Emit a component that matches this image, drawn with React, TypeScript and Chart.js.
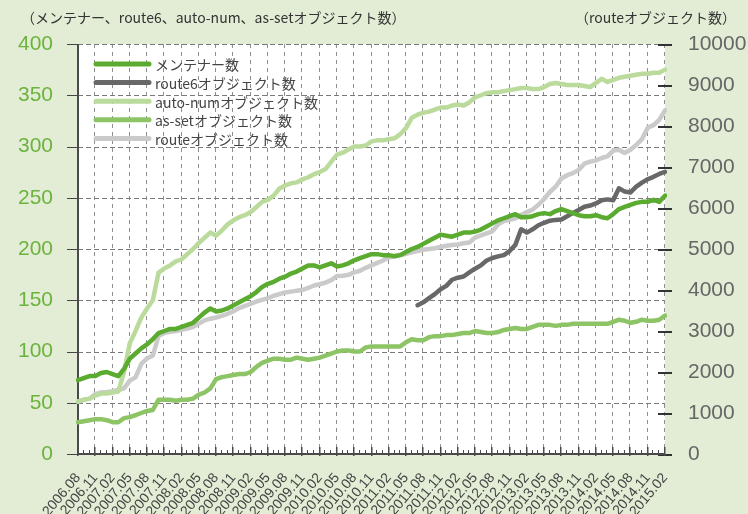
import React, { useEffect, useRef, useState } from 'react';
import { Chart, registerables } from 'chart.js';
Chart.register(...registerables);

const START_YEAR = 2006;
const START_MONTH = 8;
const MONTH_COUNT = 103;
const categories: string[] = Array.from({ length: MONTH_COUNT }, (_, i) => {
  const m = START_MONTH - 1 + i;
  return `${START_YEAR + Math.floor(m / 12)}.${String((m % 12) + 1).padStart(2, '0')}`;
});

const LEFT_TITLE = '（メンテナー、route6、auto-num、as-setオブジェクト数）';
const RIGHT_TITLE = '（routeオブジェクト数）';
const seriesNames = ['メンテナー数', 'route6オブジェクト数', 'auto-numオブジェクト数', 'as-setオブジェクト数', 'routeオブジェクト数'];

const maintainer = [
  72, 74, 76, 76, 79, 80, 78, 76, 83, 93, 98, 103, 107, 112, 118, 120, 122, 122, 124, 126,
  128, 133, 138, 142, 139, 140, 142, 145, 148, 151, 154, 158, 163, 166, 168, 171, 173, 176, 178, 181,
  184, 184, 182, 184, 186, 183, 184, 186, 189, 191, 193, 195, 195, 194, 194, 193, 194, 197, 200, 202,
  205, 208, 211, 214, 213, 212, 214, 216, 216, 217, 219, 222, 225, 228, 230, 232, 234, 231, 231, 232,
  234, 235, 234, 237, 239, 237, 235, 233, 232, 232, 233, 231, 230, 234, 239, 241, 243, 245, 246, 246,
  248, 246, 252,
];
const ROUTE6_START = 59;
const route6Values = [
  3630, 3700, 3800, 3900, 4020, 4100, 4250, 4300, 4330, 4430, 4520, 4600, 4720, 4780, 4820, 4850,
  4950, 5100, 5480, 5400, 5480, 5580, 5640, 5690, 5710, 5720, 5800, 5880, 5950, 6030, 6060, 6110,
  6190, 6210, 6190, 6480, 6400, 6380, 6520, 6620, 6700, 6760, 6830, 6880,
];
const autoNum = [
  51, 53, 54, 57, 59, 59, 60, 61, 80, 108, 120, 133, 142, 150, 177, 181, 184, 188, 190, 195,
  200, 206, 211, 216, 213, 218, 224, 228, 231, 233, 236, 241, 246, 248, 252, 259, 262, 264, 265, 268,
  270, 273, 275, 278, 285, 292, 294, 297, 300, 300, 301, 305, 306, 306, 307, 308, 312, 318, 328, 331,
  333, 334, 336, 338, 338, 340, 341, 340, 343, 348, 350, 352, 353, 353, 354, 355, 356, 357, 357, 356,
  356, 358, 361, 362, 361, 360, 360, 360, 359, 358, 362, 366, 363, 365, 367, 368, 369, 370, 371, 371,
  372, 372, 375,
];
const asSet = [
  31, 32, 33, 34, 34, 33, 31, 31, 35, 36, 38, 40, 42, 43, 53, 53, 53, 52, 53, 53,
  54, 58, 60, 64, 73, 75, 76, 77, 78, 78, 80, 85, 89, 91, 93, 93, 92, 92, 94, 93,
  92, 93, 94, 96, 98, 100, 101, 101, 100, 100, 104, 105, 105, 105, 105, 105, 105, 109, 112, 111,
  111, 114, 115, 115, 116, 116, 117, 118, 118, 120, 119, 118, 118, 119, 121, 122, 123, 122, 122, 124,
  126, 126, 126, 125, 126, 126, 127, 127, 127, 127, 127, 127, 127, 129, 131, 130, 128, 129, 131, 130,
  130, 131, 135,
];
const route = [
  1280, 1320, 1350, 1460, 1500, 1510, 1530, 1560, 1600, 1790, 1870, 2200, 2330, 2400, 2880, 2950, 2980, 3000, 3030, 3060,
  3100, 3180, 3260, 3300, 3330, 3370, 3420, 3480, 3560, 3610, 3660, 3720, 3760, 3800, 3860, 3900, 3940, 3960, 3980, 4000,
  4050, 4110, 4140, 4180, 4240, 4340, 4350, 4370, 4430, 4470, 4540, 4600, 4660, 4720, 4790, 4830, 4860, 4880, 4920, 4950,
  4980, 5000, 5020, 5050, 5080, 5100, 5110, 5140, 5160, 5280, 5330, 5380, 5430, 5600, 5680, 5710, 5750, 5830, 5900, 5960,
  6080, 6220, 6390, 6520, 6720, 6800, 6850, 6930, 7080, 7130, 7160, 7220, 7260, 7400, 7420, 7340, 7420, 7540, 7680, 7960,
  8020, 8150, 8380,
];

const leftTicks = { min: 0, max: 400, step: 50 };
const rightTicks = { min: 0, max: 10000, step: 1000 };

const BG = '#e3edd5';
const GREEN_TEXT = '#6cb33e';
const NUM_FONT = '"Liberation Sans", Arial, sans-serif';
const JP_FONT = '"Noto Sans CJK JP", sans-serif';
const colors = ['#5aab2f', '#686868', '#badb9c', '#8dc465', '#cacaca'];

function drawUnderlay(chart: any, cv: HTMLCanvasElement) {
  const ctx = cv.getContext('2d') as CanvasRenderingContext2D;
  const a = chart.chartArea;
  const xs = chart.scales.x;
  const ys = chart.scales.y;
  const y1 = chart.scales.y1;
  const L = Math.round(a.left);
  const R = Math.round(a.right);
  const T = Math.round(a.top);
  const B = Math.round(a.bottom);
  ctx.fillStyle = BG;
  ctx.fillRect(0, 0, cv.width, cv.height);
  ctx.fillStyle = '#ffffff';
  ctx.fillRect(L, T, R - L, B - T);
  // vertical dashed grid every 3 months
  ctx.fillStyle = '#8f8f8f';
  for (let i = 3; i < categories.length; i += 3) {
    const x = Math.round(xs.getPixelForValue(i)) - 1;
    for (let y = T; y < B; y += 8) ctx.fillRect(x, y, 1, Math.min(4, B - y));
  }
  // horizontal dashed grid
  ctx.fillStyle = '#7a7a7a';
  for (let v = leftTicks.min + leftTicks.step; v <= leftTicks.max; v += leftTicks.step) {
    const y = Math.round(ys.getPixelForValue(v));
    for (let x = L; x < R; x += 8) ctx.fillRect(x, y, Math.min(5, R - x), 1);
  }
  // left ticks
  ctx.fillStyle = '#444444';
  for (let v = leftTicks.min; v <= leftTicks.max; v += leftTicks.step) {
    const y = Math.round(ys.getPixelForValue(v));
    ctx.fillRect(L - 11, y, 11, 1);
  }
  // right ticks
  ctx.fillStyle = '#333333';
  for (let v = rightTicks.min; v <= rightTicks.max; v += rightTicks.step) {
    const y = Math.round(y1.getPixelForValue(v));
    ctx.fillRect(R - 7, y, 14, 2);
  }
  // axes
  ctx.fillStyle = '#4a4a4a';
  ctx.fillRect(L - 1, T, 2, B - T + 1);
  ctx.fillRect(L - 1, B - 1, R - L + 1, 2);
  for (let i = 0; i < categories.length; i++) {
    const x = Math.round(xs.getPixelForValue(i));
    if (i % 3 === 0) ctx.fillRect(x - 1, B - 7, 1.5, 9);
    else ctx.fillRect(x - 1, B - 4, 1, 4);
  }
}

const decorPlugin = {
  id: 'decor',
  beforeDraw(chart: any) {
    const { ctx } = chart;
    ctx.save();
    ctx.fillStyle = '#333333';
    ctx.font = `14px ${JP_FONT}`;
    ctx.textBaseline = 'middle';
    ctx.textAlign = 'left';
    ctx.fillText(LEFT_TITLE, 21, 18);
    ctx.textAlign = 'right';
    ctx.fillText(RIGHT_TITLE, 736, 18);
    ctx.restore();
  },
  afterDatasetsDraw(chart: any) {
    const { ctx } = chart;
    ctx.save();
    ctx.font = `14px ${JP_FONT}`;
    ctx.textBaseline = 'middle';
    ctx.textAlign = 'left';
    chart.data.datasets.forEach((ds: any, i: number) => {
      const y = 64 + i * 18.6;
      ctx.strokeStyle = ds.borderColor;
      ctx.lineWidth = 5;
      ctx.lineCap = 'round';
      ctx.beginPath();
      ctx.moveTo(96, y);
      ctx.lineTo(149, y);
      ctx.stroke();
      ctx.fillStyle = '#444444';
      ctx.fillText(ds.label, 155, y + 1);
    });
    ctx.restore();
  },
};

export default function App() {
  const ref = useRef<HTMLCanvasElement | null>(null);
  const bgRef = useRef<HTMLCanvasElement | null>(null);
  const [err, setErr] = useState('');
  useEffect(() => {
    document.body.style.margin = '0';
    document.body.style.background = BG;
    if (!ref.current) return;
    const route6 = categories.map((_, i) =>
      i >= ROUTE6_START && i - ROUTE6_START < route6Values.length ? route6Values[i - ROUTE6_START] : null
    );
    const mk = (label: string, data: any[], color: string, axis: string) => ({
      label,
      data,
      borderColor: color,
      backgroundColor: color,
      yAxisID: axis,
      borderWidth: 4.5,
      pointRadius: 0,
      tension: 0,
      fill: false,
      borderCapStyle: 'round',
      borderJoinStyle: 'round',
    });
    const chart = new Chart(ref.current, {
      type: 'line',
      data: {
        labels: categories,
        datasets: [
          mk(seriesNames[0], maintainer, colors[0], 'y'),
          mk(seriesNames[1], route6, colors[1], 'y1'),
          mk(seriesNames[2], autoNum, colors[2], 'y'),
          mk(seriesNames[3], asSet, colors[3], 'y'),
          mk(seriesNames[4], route, colors[4], 'y1'),
        ] as any,
      },
      options: {
        responsive: false,
        animation: false,
        layout: { padding: { top: 44, left: 0, right: 0, bottom: 0 } },
        plugins: { legend: { display: false }, tooltip: { enabled: false }, title: { display: false } },
        scales: {
          x: {
            type: 'category',
            offset: false,
            afterFit: (s: any) => { s.height = 60; },
            grid: { display: false },
            border: { display: false },
            ticks: {
              autoSkip: false,
              maxRotation: 50,
              minRotation: 50,
              padding: 8,
              color: '#444444',
              font: { size: 14, family: NUM_FONT },
              callback: (_v: any, i: number) => (i % 3 === 0 ? categories[i] : null),
            },
          },
          y: {
            position: 'left',
            min: leftTicks.min,
            max: leftTicks.max,
            afterFit: (s: any) => { s.width = 78; },
            ticks: { stepSize: leftTicks.step, color: GREEN_TEXT, font: { size: 21, family: NUM_FONT }, padding: 17, callback: (v: any) => String(v) },
            grid: { display: false },
            border: { display: false },
          },
          y1: {
            position: 'right',
            min: rightTicks.min,
            max: rightTicks.max,
            afterFit: (s: any) => { s.width = 83; },
            ticks: { stepSize: rightTicks.step, color: '#666666', font: { size: 21, family: NUM_FONT }, padding: 15, callback: (v: any) => String(v) },
            grid: { display: false },
            border: { display: false },
          },
        },
      } as any,
      plugins: [decorPlugin],
    });
    try {
      if (bgRef.current) drawUnderlay(chart, bgRef.current);
    } catch (e: any) {
      setErr(String(e && e.message ? e.message : e));
    }
    return () => chart.destroy();
  }, []);
  return (
    <div style={{ position: 'relative', width: 748, height: 514, background: BG }}>
      <canvas ref={bgRef} width={748} height={514} style={{ position: 'absolute', left: 0, top: 0, zIndex: 0 }} />
      <canvas ref={ref} width={748} height={514} style={{ position: 'absolute', left: 0, top: 0, zIndex: 1, display: 'block' }} />
      {err ? <div style={{ position: 'absolute', left: 300, top: 480, zIndex: 2, color: 'red', fontSize: 10 }}>{err}</div> : null}
    </div>
  );
}
